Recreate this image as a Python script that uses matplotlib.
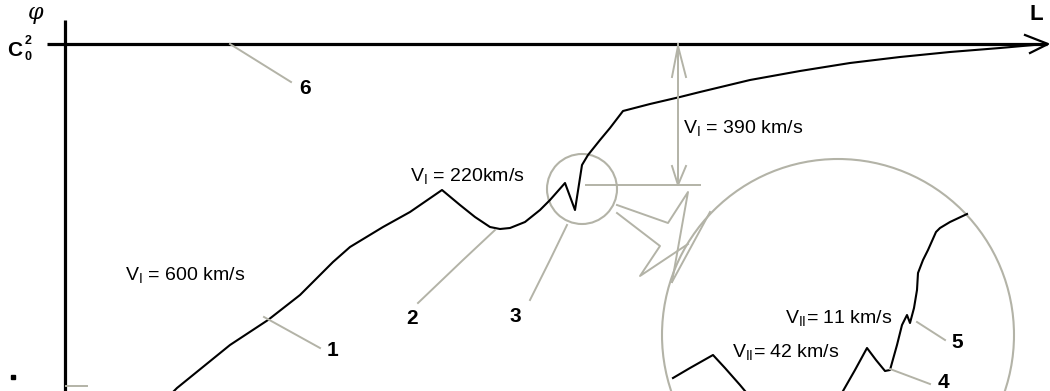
import matplotlib
matplotlib.use("Agg")
import matplotlib.pyplot as plt
from matplotlib.patches import Circle

plt.rcParams['font.family'] = ['Liberation Sans', 'DejaVu Sans']
plt.rcParams['mathtext.fontset'] = 'custom'
plt.rcParams['mathtext.rm'] = 'Liberation Sans'
plt.rcParams['mathtext.it'] = 'Liberation Sans'

# ---- data (schematic units: L along x, potential downward on y) ----
main_L = [174, 177, 230, 268, 300, 333, 350, 383, 410, 442, 460, 475, 490, 500,
          510, 525, 540, 550, 565, 575, 582, 588, 600, 610, 623, 650, 680, 700,
          750, 800, 850, 900, 950, 1000, 1045]
main_phi = [391, 388, 345, 320, 295, 262, 247, 227, 212, 190, 205, 217, 227, 229,
            228, 222, 210, 200, 183, 210, 165, 155, 140, 128, 111, 104, 97, 92,
            80, 71, 63, 57, 52, 48, 44]

zoom1_L = [673, 690, 713, 725, 740, 745]
zoom1_phi = [378, 368, 355, 368, 385, 391]
zoom2_L = [843, 855, 867, 876, 885, 890, 897, 902, 907, 910, 914, 917, 918, 923,
           928, 936, 940, 950, 967]
zoom2_phi = [391, 370, 348, 360, 371, 370, 345, 325, 315, 323, 308, 290, 273, 260,
             250, 232, 228, 222, 214]

speed_labels = [r"V$_\mathrm{I}$ = 600 km/s", r"V$_\mathrm{I}$ = 220km/s",
                r"V$_\mathrm{I}$ = 390 km/s", r"V$_\mathrm{II}$= 11 km/s",
                r"V$_\mathrm{II}$= 42 km/s"]
speed_pos = [(125, 275), (410, 176), (683, 128), (785, 318), (732, 352)]

num_labels = ["1", "2", "3", "4", "5", "6"]
num_pos = [(333, 351), (412, 318), (515, 317), (943, 383), (957, 343), (305, 88)]
leaders = [[(264, 317), (320, 348)],
           [(495, 230), (463, 260), (418, 303)],
           [(567, 225), (550, 260), (530, 300)],
           [(890, 369), (930, 384)],
           [(917, 322), (945, 340)],
           [(230, 44), (291, 82)]]

GRAY = "#b3b3a7"

fig = plt.figure(figsize=(10.5, 3.91), dpi=100)
ax = fig.add_axes([0, 0, 1, 1])
ax.set_xlim(0, 1050)
ax.set_ylim(391, 0)
ax.axis('off')

# axes of the diagram
ax.plot([47, 1047], [44, 44], color='black', lw=2.3, solid_capstyle='butt')
ax.plot([1025, 1048, 1030], [35, 44, 53], color='black', lw=1.6)
ax.plot([65, 65], [20, 391], color='black', lw=2.3, solid_capstyle='butt')
ax.plot([66, 87], [386, 386], color=GRAY, lw=1.4)
ax.plot([13], [377], marker='s', ms=2.5, color='black')

# curves
ax.plot(main_L, main_phi, color='black', lw=1.5)
ax.plot(zoom1_L, zoom1_phi, color='black', lw=1.5)
ax.plot(zoom2_L, zoom2_phi, color='black', lw=1.5)

# circles
ax.add_patch(Circle((582, 189), 35, fill=False, ec=GRAY, lw=1.5))
ax.add_patch(Circle((838, 335), 176, fill=False, ec=GRAY, lw=1.5))

# callout zigzag
ax.plot([617, 668, 688, 672], [205, 223, 192, 282], color=GRAY, lw=1.4)
ax.plot([617, 660, 640, 688], [213, 246, 276, 244], color=GRAY, lw=1.4)
ax.plot([710, 672], [212, 282], color=GRAY, lw=1.4)

# double arrow and reference line
ax.plot([678, 678], [44, 185], color=GRAY, lw=1.4)
ax.plot([672, 678, 686], [77, 46, 77], color=GRAY, lw=1.4)
ax.plot([672, 678, 686], [166, 185, 166], color=GRAY, lw=1.4)
ax.plot([586, 700], [185, 185], color=GRAY, lw=1.4)

# leaders and numbers
for pts, lab, (x, y) in zip(leaders, num_labels, num_pos):
    xs, ys = zip(*pts)
    ax.plot(xs, ys, color=GRAY, lw=1.4)
    ax.text(x, y, lab, fontsize=15, fontweight='bold', ha='center', va='center')

for lab, (x, y) in zip(speed_labels, speed_pos):
    ax.text(x, y, lab, fontsize=14, ha='left', va='center')

# axis titles
ax.text(36, 13, "φ", fontsize=16, style='italic', family='DejaVu Serif',
        ha='center', va='center')
ax.text(15, 50, "C", fontsize=15, fontweight='bold', ha='center', va='center')
ax.text(28, 41, "2", fontsize=9, fontweight='bold', ha='center', va='center')
ax.text(28, 57, "0", fontsize=9, fontweight='bold', ha='center', va='center')
ax.text(1036, 15, "L", fontsize=16, fontweight='bold', ha='center', va='center')

fig.savefig("out.png", dpi=100)
